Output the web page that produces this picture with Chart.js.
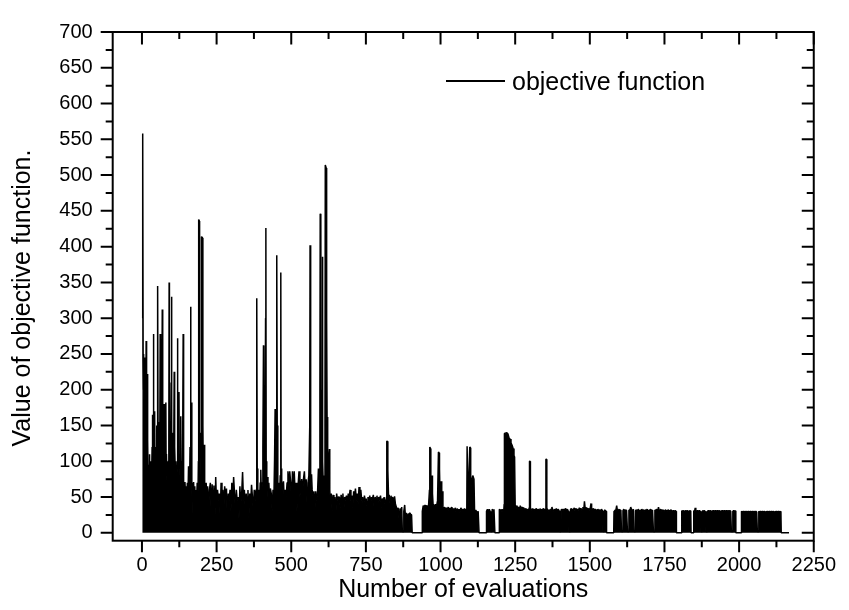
<!DOCTYPE html>
<html>
<head>
<meta charset="utf-8">
<script src="https://cdn.jsdelivr.net/npm/chart.js@4.4.0/dist/chart.umd.min.js"></script>
<style>
html,body{margin:0;padding:0;background:#fff;}
</style>
</head>
<body>
<canvas id="myChart" width="849" height="610"></canvas>
<script>
// evaluations 1..660 : big spikes
const earlyEval=[1,2,3,4,5,6,7,8,9,10,
11,12,13,14,15,16,17,18,19,20,
21,22,24,25,26,28,29,30,31,32,
33,34,35,36,37,38,39,40,41,42,
43,44,45,46,47,48,49,50,51,52,
53,54,55,56,57,58,59,60,61,62,
63,64,65,66,67,68,69,70,71,72,
74,75,76,78,80,81,82,84,85,86,
88,90,91,92,94,96,98,99,100,102,
104,106,108,109,110,112,114,116,118,119,
120,122,124,125,126,128,130,131,132,134,
136,138,139,140,142,144,146,148,150,152,
154,156,157,159,161,163,164,166,167,169,
171,173,175,177,179,181,183,185,187,189,
190,192,193,196,198,199,200,203,204,206,
207,208,209,211,213,215,218,220,223,226,
229,232,235,238,241,244,247,250,253,256,
259,262,265,268,271,274,277,280,283,286,
289,292,295,298,301,304,307,310,313,316,
319,322,325,328,331,334,337,340,343,346,
349,352,355,358,361,364,367,370,373,376,
379,382,384,385,386,388,390,393,396,398,
400,403,405,407,408,410,412,414,415,416,
418,420,422,425,428,430,433,436,439,442,
444,446,448,450,451,452,453,455,458,461,
463,465,466,468,471,474,477,480,483,486,
489,492,495,498,501,504,507,510,513,516,
519,522,526,529,532,535,538,541,544,547,
550,553,556,559,562,563,564,566,568,570,
573,576,579,582,585,588,591,594,596,597,
599,600,601,603,604,605,606,607,609,611,
613,614,617,618,619,620,621,623,625,628,
629,631,634,637,640,643,646,649,652,655,
658];
const earlyValue=[300,558,556,240,200,250,175,230,180,245,
140,205,110,268,120,90,150,222,80,130,
60,95,70,110,50,95,60,100,70,40,
80,120,70,165,90,278,110,140,75,100,
170,70,100,60,110,120,80,150,100,345,
345,130,90,155,70,110,140,90,278,120,
100,150,80,120,100,312,110,140,70,100,
180,90,130,100,182,80,110,70,40,90,
100,130,350,95,150,90,210,330,120,90,
140,80,225,100,120,80,100,70,90,272,
100,130,197,90,100,70,163,90,100,70,
90,278,80,60,70,71,50,65,40,70,
45,93,60,40,120,316,80,182,50,70,
25,71,40,65,10,60,45,70,30,100,
438,436,120,140,70,200,414,412,150,60,
80,123,50,70,20,70,40,65,30,60,
70,25,68,40,66,10,78,35,60,45,
55,20,70,40,60,30,65,50,62,15,
55,45,60,30,70,40,78,55,30,60,
45,50,20,65,40,55,85,45,60,30,
55,40,60,20,55,40,67,50,30,60,
45,60,100,328,90,40,60,30,70,88,
50,70,120,262,80,60,90,300,426,100,
60,78,50,70,40,62,55,30,60,50,
100,173,70,120,380,388,150,60,70,40,
80,364,90,55,65,72,40,60,50,70,
86,60,86,70,40,86,60,86,55,70,
30,60,86,50,65,75,55,75,86,60,
75,40,70,80,150,402,110,70,82,60,
50,58,30,58,45,55,90,60,200,446,
444,120,80,200,386,384,100,70,80,60,
150,514,510,504,300,162,120,70,100,117,
60,40,55,30,53,40,50,20,55,45,
50];

// evaluations 660..1520 : medium peaks
const midEval=[661,664,667,670,673,676,679,682,685,688,
691,694,697,700,703,706,709,712,715,718,
721,724,727,730,733,736,739,742,745,748,
751,754,757,760,763,766,769,772,775,778,
781,784,787,790,793,796,799,802,805,808,
811,814,817,819,820,822,823,824,826,828,
831,834,837,840,843,846,849,852,855,858,
861,864,867,870,872,876,877,880,882,885,
888,891,894,897,900,903,905,938,939,942,
945,948,951,954,957,960,963,964,966,967,
968,970,972,973,975,978,981,984,987,990,
993,995,996,997,999,1002,1004,1006,1008,1011,
1014,1017,1020,1023,1026,1029,1032,1035,1038,1041,
1044,1047,1050,1053,1056,1059,1062,1065,1068,1071,
1074,1077,1080,1083,1086,1088,1089,1091,1092,1098,
1100,1101,1104,1108,1112,1114,1118,1122,1126,1129,
1153,1154,1157,1160,1163,1166,1168,1172,1173,1176,
1179,1182,1196,1197,1200,1203,1206,1209,1212,1213,
1214,1222,1226,1230,1233,1236,1240,1243,1246,1248,
1250,1252,1255,1258,1261,1264,1267,1270,1273,1276,
1279,1282,1285,1288,1291,1294,1297,1298,1300,1301,
1303,1306,1309,1312,1315,1318,1321,1324,1327,1330,
1333,1336,1339,1342,1345,1348,1351,1353,1355,1356,
1358,1361,1364,1367,1370,1373,1376,1379,1382,1385,
1388,1391,1394,1397,1399,1403,1404,1407,1410,1413,
1416,1419,1422,1425,1428,1430,1434,1435,1438,1441,
1444,1447,1450,1453,1456,1459,1462,1465,1468,1471,
1474,1477,1480,1482,1484,1487,1490,1493,1496,1499,
1502,1504,1506,1509,1512,1515,1518];
const midValue=[50,35,53,45,55,30,50,45,52,40,
55,48,60,45,52,35,58,50,62,45,
55,40,64,52,60,45,50,30,52,45,
48,35,50,44,52,40,50,48,53,30,
50,46,52,40,50,45,52,35,48,44,
50,40,45,50,128,128,60,87,50,53,
40,52,45,50,35,51,40,36,30,35,
20,34,28,36,2,2,30,39,25,28,
20,27,24,28,26,25,0,0,30,38,
35,39,30,38,35,39,60,120,118,50,
72,40,80,55,40,38,35,40,38,45,
113,112,50,89,40,72,50,58,35,34,
36,30,35,33,36,28,35,32,36,30,
34,31,35,25,34,30,33,28,35,32,
33,30,34,31,33,35,121,121,40,120,
119,60,72,80,75,30,32,28,30,0,
0,30,33,28,33,30,2,2,33,31,
33,0,0,33,32,30,33,30,32,40,
139,140,138,132,131,126,122,118,108,106,
38,32,38,35,36,30,38,34,36,33,
35,30,34,32,33,30,35,100,100,35,
33,31,34,30,33,32,34,30,33,31,
34,30,33,32,34,31,33,103,103,34,
33,30,32,31,33,36,32,30,33,31,
34,30,33,31,2,2,32,33,31,33,
32,34,31,33,30,2,2,32,34,31,
33,35,31,34,32,33,31,35,32,34,
31,36,33,44,36,33,35,32,34,31,
36,41,33,32,34,31,33];

// evaluations 1520..2167 : flat tail
const lateEval=[1521,1524,1527,1530,1533,1536,1539,1542,1544,1548,
1549,1552,1555,1556,1580,1581,1584,1587,1590,1592,
1595,1598,1601,1604,1606,1610,1611,1614,1617,1620,
1623,1626,1630,1631,1634,1637,1640,1643,1646,1648,
1652,1653,1656,1659,1662,1665,1668,1671,1674,1677,
1680,1683,1686,1689,1692,1695,1698,1701,1704,1707,
1710,1713,1717,1718,1721,1724,1727,1730,1732,1735,
1738,1741,1744,1747,1750,1753,1756,1759,1762,1765,
1768,1771,1774,1777,1780,1783,1786,1789,1790,1807,
1808,1811,1814,1817,1820,1823,1826,1829,1832,1835,
1838,1839,1847,1848,1851,1853,1855,1858,1861,1864,
1867,1870,1872,1876,1877,1880,1883,1886,1889,1893,
1894,1897,1900,1903,1906,1909,1912,1915,1918,1921,
1924,1927,1930,1933,1936,1939,1942,1945,1948,1951,
1954,1957,1960,1963,1966,1969,1972,1974,1978,1979,
1982,1985,1988,1989,2007,2008,2011,2014,2017,2020,
2023,2026,2029,2032,2035,2038,2041,2044,2047,2050,
2053,2056,2059,2061,2065,2066,2069,2072,2075,2078,
2081,2084,2087,2090,2093,2096,2099,2102,2105,2108,
2111,2114,2117,2120,2123,2126,2129,2132,2135,2138,
2140,2141,2167];
const lateValue=[32,30,33,31,32,30,33,31,2,2,
32,31,30,0,0,30,32,31,38,32,
31,33,30,32,2,2,31,33,30,32,
31,2,2,32,31,36,32,31,33,2,
2,31,32,30,33,31,32,30,33,31,
32,30,32,31,33,30,32,31,33,30,
32,2,2,32,31,33,30,36,32,31,
33,30,32,31,30,32,31,30,32,31,
30,32,31,30,31,30,31,30,0,0,
31,30,31,29,31,30,31,30,31,30,
31,0,0,31,30,35,31,30,31,30,
31,30,2,2,31,30,31,30,2,2,
30,31,30,31,30,31,30,31,30,31,
30,31,30,31,30,31,30,31,30,31,
30,31,30,31,30,31,30,2,2,30,
31,30,31,0,0,30,29,30,29,30,
29,30,29,30,29,30,29,30,29,30,
29,30,29,2,2,30,29,30,29,30,
29,30,29,30,29,30,29,30,29,30,
29,30,29,30,29,30,29,30,29,30,
29,0,0];

const xTicks=[0,250,500,750,1000,1250,1500,1750,2000,2250];
const yTicks=[0,50,100,150,200,250,300,350,400,450,500,550,600,650,700];

const family='"Liberation Sans", Arial, sans-serif';

const evalAll=earlyEval.concat(midEval,lateEval);
const valueAll=earlyValue.concat(midValue,lateValue);
const points=evalAll.map((e,i)=>({x:e,y:valueAll[i]}));

// frame with in/out ticks, rotated y title and inset legend
const framePlugin={
  id:'frame',
  afterDraw(chart){
    const ctx=chart.ctx;
    const a=chart.chartArea;
    const xs=chart.scales.x, ys=chart.scales.y;
    ctx.save();
    ctx.strokeStyle='#000';
    ctx.lineWidth=2;
    ctx.strokeRect(a.left,a.top,a.right-a.left,a.bottom-a.top);
    ctx.beginPath();
    yTicks.forEach((v,i)=>{
      let py=ys.getPixelForValue(v);
      ctx.moveTo(a.left-12,py);ctx.lineTo(a.left,py);
      ctx.moveTo(a.right,py);ctx.lineTo(a.right-12,py);
      if(i<yTicks.length-1){
        py=ys.getPixelForValue((v+yTicks[i+1])/2);
        ctx.moveTo(a.left-7,py);ctx.lineTo(a.left,py);
        ctx.moveTo(a.right,py);ctx.lineTo(a.right-7,py);
      }
    });
    xTicks.forEach((v,i)=>{
      let px=xs.getPixelForValue(v);
      ctx.moveTo(px,a.bottom);ctx.lineTo(px,a.bottom+11.5);
      ctx.moveTo(px,a.top);ctx.lineTo(px,a.top+12.5);
      if(i<xTicks.length-1){
        px=xs.getPixelForValue((v+xTicks[i+1])/2);
        ctx.moveTo(px,a.bottom);ctx.lineTo(px,a.bottom+6.5);
        ctx.moveTo(px,a.top);ctx.lineTo(px,a.top+7);
      }
    });
    ctx.stroke();

    ctx.fillStyle='#000';
    ctx.font='25px '+family;
    ctx.save();
    ctx.translate(23.5,298);
    ctx.rotate(-Math.PI/2);
    ctx.textAlign='center';
    ctx.textBaseline='middle';
    ctx.fillText('Value of objective function.',0,0);
    ctx.restore();

    const ds=chart.data.datasets[0];
    ctx.beginPath();
    ctx.lineWidth=2;
    ctx.moveTo(446,81);ctx.lineTo(505,81);
    ctx.stroke();
    ctx.textAlign='left';
    ctx.textBaseline='alphabetic';
    ctx.fillText(ds.label,512,90);
    ctx.restore();
  }
};

const ctx=document.getElementById('myChart').getContext('2d');
const myChart=new Chart(ctx,{
  type:'line',
  data:{
    datasets:[{
      label:'objective function',
      data:points,
      borderColor:'#000',
      backgroundColor:'#000',
      borderWidth:1.5,
      borderJoinStyle:'bevel',
      fill:'origin',
      pointRadius:0,
      tension:0
    }]
  },
  options:{
    responsive:false,
    animation:false,
    devicePixelRatio:1,
    events:[],
    layout:{padding:{left:0,top:15.7,right:28.3,bottom:0}},
    plugins:{legend:{display:false},tooltip:{enabled:false}},
    scales:{
      x:{
        type:'linear',
        min:-98,
        max:2250,
        grid:{display:false,drawTicks:false},
        border:{display:false},
        afterBuildTicks:s=>{s.ticks=xTicks.map(v=>({value:v}));},
        afterFit:s=>{s.height=69.3;},
        ticks:{color:'#000',font:{size:20,family:family},padding:13,maxRotation:0,autoSkip:false,callback:v=>String(v)},
        title:{display:true,text:'Number of evaluations',color:'#000',font:{size:25,family:family},padding:{top:0,bottom:5}}
      },
      y:{
        type:'linear',
        min:-11,
        max:700,
        grid:{display:false,drawTicks:false},
        border:{display:false},
        afterBuildTicks:s=>{s.ticks=yTicks.map(v=>({value:v}));},
        afterFit:s=>{s.width=112.7;},
        ticks:{color:'#000',font:{size:20,family:family},padding:20,autoSkip:false,callback:v=>String(v)}
      }
    }
  },
  plugins:[framePlugin]
});
</script>
</body>
</html>
